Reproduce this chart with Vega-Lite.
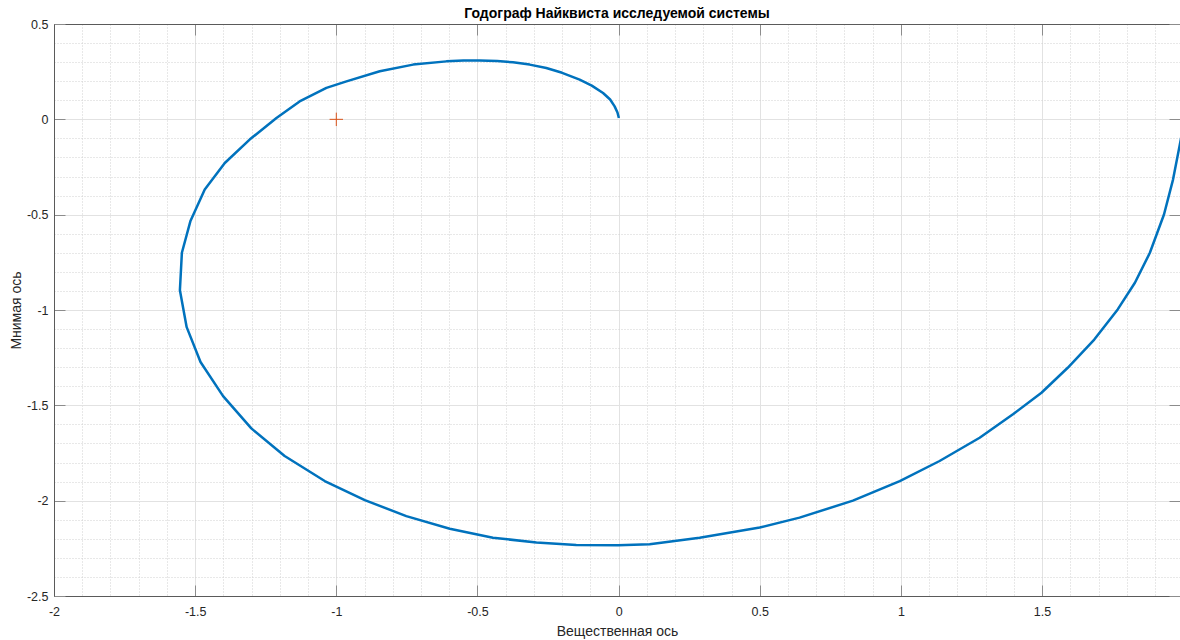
{
  "$schema": "https://vega.github.io/schema/vega-lite/v6.json",
  "width": 1126,
  "height": 572,
  "autosize": {"type": "none"},
  "padding": {"left": 54, "top": 24, "right": 0, "bottom": 44},
  "background": "white",
  "config": {
    "view": {"stroke": null},
    "font": "Liberation Sans",
    "axis": {
      "labelFont": "Liberation Sans",
      "labelFontSize": 12.5,
      "labelColor": "#262626",
      "labelFlush": false,
      "labelOverlap": false,
      "labelExpr": "datum.value + ''",
      "titleFont": "Liberation Sans",
      "titleFontSize": 14,
      "titleFontWeight": "normal",
      "titleColor": "#262626"
    }
  },
  "title": {
    "text": "Годограф Найквиста исследуемой системы",
    "font": "Liberation Sans",
    "fontSize": 14,
    "fontWeight": "bold",
    "color": "#000000",
    "anchor": "middle",
    "offset": -3
  },
  "datasets": {
    "curve": [
      {"i": 1, "re": 2.0, "im": -0.04},
      {"i": 2, "re": 1.988, "im": -0.133},
      {"i": 3, "re": 1.964, "im": -0.316},
      {"i": 4, "re": 1.932, "im": -0.499},
      {"i": 5, "re": 1.882, "im": -0.7},
      {"i": 6, "re": 1.829, "im": -0.857},
      {"i": 7, "re": 1.768, "im": -0.997},
      {"i": 8, "re": 1.685, "im": -1.155},
      {"i": 9, "re": 1.591, "im": -1.303},
      {"i": 10, "re": 1.498, "im": -1.434},
      {"i": 11, "re": 1.397, "im": -1.547},
      {"i": 12, "re": 1.279, "im": -1.67},
      {"i": 13, "re": 1.137, "im": -1.792},
      {"i": 14, "re": 0.996, "im": -1.897},
      {"i": 15, "re": 0.83, "im": -2.0},
      {"i": 16, "re": 0.641, "im": -2.089},
      {"i": 17, "re": 0.5, "im": -2.141},
      {"i": 18, "re": 0.287, "im": -2.194},
      {"i": 19, "re": 0.11, "im": -2.229},
      {"i": 20, "re": -0.002, "im": -2.234},
      {"i": 21, "re": -0.15, "im": -2.233},
      {"i": 22, "re": -0.291, "im": -2.22},
      {"i": 23, "re": -0.445, "im": -2.194},
      {"i": 24, "re": -0.598, "im": -2.147},
      {"i": 25, "re": -0.752, "im": -2.081},
      {"i": 26, "re": -0.899, "im": -1.997},
      {"i": 27, "re": -1.041, "im": -1.897},
      {"i": 28, "re": -1.183, "im": -1.766},
      {"i": 29, "re": -1.301, "im": -1.621},
      {"i": 30, "re": -1.401, "im": -1.452},
      {"i": 31, "re": -1.481, "im": -1.273},
      {"i": 32, "re": -1.53, "im": -1.09},
      {"i": 33, "re": -1.554, "im": -0.896},
      {"i": 34, "re": -1.547, "im": -0.7},
      {"i": 35, "re": -1.517, "im": -0.535},
      {"i": 36, "re": -1.466, "im": -0.368},
      {"i": 37, "re": -1.395, "im": -0.229},
      {"i": 38, "re": -1.307, "im": -0.106},
      {"i": 39, "re": -1.212, "im": 0.007},
      {"i": 40, "re": -1.13, "im": 0.094},
      {"i": 41, "re": -1.035, "im": 0.165},
      {"i": 42, "re": -0.964, "im": 0.199},
      {"i": 43, "re": -0.846, "im": 0.252},
      {"i": 44, "re": -0.728, "im": 0.287},
      {"i": 45, "re": -0.61, "im": 0.304},
      {"i": 46, "re": -0.55, "im": 0.308},
      {"i": 47, "re": -0.492, "im": 0.309},
      {"i": 48, "re": -0.43, "im": 0.306},
      {"i": 49, "re": -0.374, "im": 0.299},
      {"i": 50, "re": -0.315, "im": 0.287},
      {"i": 51, "re": -0.256, "im": 0.269},
      {"i": 52, "re": -0.2, "im": 0.244},
      {"i": 53, "re": -0.138, "im": 0.208},
      {"i": 54, "re": -0.095, "im": 0.177},
      {"i": 55, "re": -0.055, "im": 0.138},
      {"i": 56, "re": -0.03, "im": 0.104},
      {"i": 57, "re": -0.014, "im": 0.068},
      {"i": 58, "re": -0.004, "im": 0.036},
      {"i": 59, "re": 0.001, "im": 0.007}
    ],
    "crit": [{"re": -1, "im": 0}]
  },
  "layer": [
    {
      "data": {"name": "crit"},
      "mark": {"type": "point", "opacity": 0},
      "encoding": {
        "x": {
          "field": "re", "type": "quantitative",
          "scale": {"domain": [-2, 1.9887], "nice": false, "zero": false},
          "axis": {
            "orient": "bottom", "title": null, "labels": false, "ticks": false, "domain": false,
            "grid": true, "gridColor": "#d0d0d0", "gridDash": [1, 2], "gridWidth": 1,
            "values": [-2, -1.9, -1.8, -1.7, -1.6, -1.5, -1.4, -1.3, -1.2, -1.1, -1, -0.9, -0.8, -0.7, -0.6, -0.5, -0.4, -0.3, -0.2, -0.1, 0, 0.1, 0.2, 0.3, 0.4, 0.5, 0.6, 0.7, 0.8, 0.9, 1, 1.1, 1.2, 1.3, 1.4, 1.5, 1.6, 1.7, 1.8, 1.9]
          }
        },
        "y": {
          "field": "im", "type": "quantitative",
          "scale": {"domain": [-2.5, 0.5], "nice": false, "zero": false},
          "axis": {
            "orient": "left", "title": null, "labels": false, "ticks": false, "domain": false,
            "grid": true, "gridColor": "#d0d0d0", "gridDash": [1, 2], "gridWidth": 1,
            "values": [-2.5, -2.4, -2.3, -2.2, -2.1, -2, -1.9, -1.8, -1.7, -1.6, -1.5, -1.4, -1.3, -1.2, -1.1, -1, -0.9, -0.8, -0.7, -0.6, -0.5, -0.4, -0.3, -0.2, -0.1, 0, 0.1, 0.2, 0.3, 0.4, 0.5]
          }
        }
      }
    },
    {
      "data": {"name": "curve"},
      "mark": {"type": "line", "color": "#0072BD", "strokeWidth": 2.5, "clip": true, "strokeJoin": "round"},
      "encoding": {
        "x": {
          "field": "re", "type": "quantitative",
          "scale": {"domain": [-2, 1.9887], "nice": false, "zero": false},
          "axis": {
            "orient": "bottom", "title": "Вещественная ось", "titlePadding": 6,
            "values": [-2, -1.5, -1, -0.5, 0, 0.5, 1, 1.5],
            "grid": true, "gridColor": "#e2e2e2", "gridWidth": 1,
            "ticks": true, "tickSize": -11, "tickColor": "#8c8c8c", "tickWidth": 1,
            "domain": true, "domainColor": "#5a5a5a", "domainWidth": 1,
            "labelPadding": 20.5
          }
        },
        "y": {
          "field": "im", "type": "quantitative",
          "scale": {"domain": [-2.5, 0.5], "nice": false, "zero": false},
          "axis": {
            "orient": "left", "title": "Мнимая ось", "titlePadding": 3,
            "values": [-2.5, -2, -1.5, -1, -0.5, 0, 0.5],
            "grid": true, "gridColor": "#e2e2e2", "gridWidth": 1,
            "ticks": true, "tickSize": -11, "tickColor": "#8c8c8c", "tickWidth": 1,
            "domain": true, "domainColor": "#5a5a5a", "domainWidth": 1,
            "labelPadding": 17
          }
        },
        "order": {"field": "i", "type": "quantitative"}
      }
    },
    {
      "data": {"name": "crit"},
      "mark": {"type": "point", "shape": "M-1,0L1,0M0,-1L0,1", "size": 180, "filled": false, "stroke": "#D95319", "strokeWidth": 1, "opacity": 1},
      "encoding": {
        "x": {
          "field": "re", "type": "quantitative",
          "scale": {"domain": [-2, 1.9887], "nice": false, "zero": false},
          "axis": {
            "orient": "top", "title": null, "labels": false, "grid": false,
            "values": [-2, -1.5, -1, -0.5, 0, 0.5, 1, 1.5],
            "ticks": true, "tickSize": -11, "tickColor": "#8c8c8c", "tickWidth": 1,
            "domain": true, "domainColor": "#5a5a5a", "domainWidth": 1
          }
        },
        "y": {
          "field": "im", "type": "quantitative",
          "scale": {"domain": [-2.5, 0.5], "nice": false, "zero": false},
          "axis": {
            "orient": "right", "title": null, "labels": false, "grid": false,
            "values": [-2.5, -2, -1.5, -1, -0.5, 0, 0.5],
            "ticks": true, "tickSize": -11, "tickColor": "#8c8c8c", "tickWidth": 1,
            "domain": false
          }
        }
      }
    }
  ],
  "resolve": {"axis": {"x": "independent", "y": "independent"}}
}
